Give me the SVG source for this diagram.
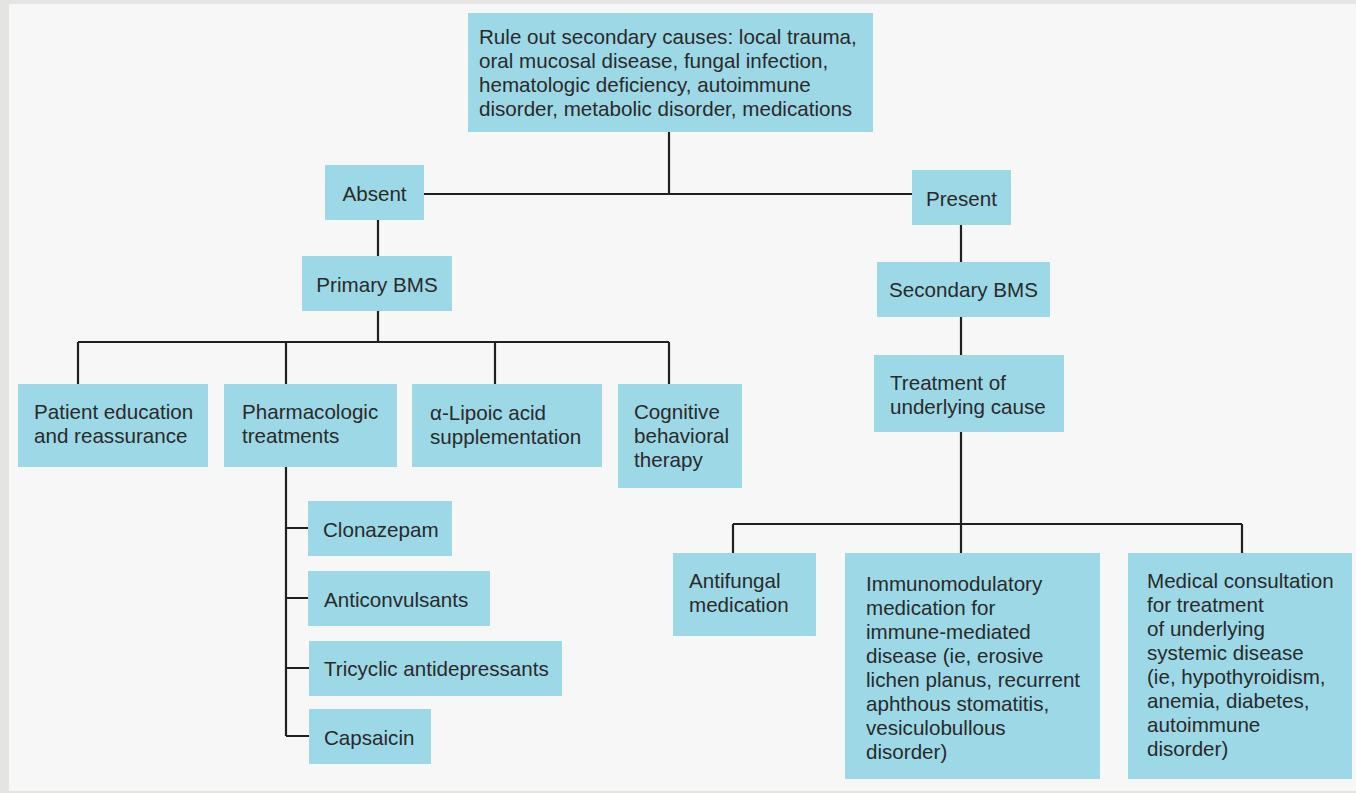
<svg xmlns="http://www.w3.org/2000/svg" width="1356" height="793" viewBox="0 0 1356 793">
<style>
.bx{fill:#9dd8e6}
.t{font-family:"Liberation Sans",Arial,sans-serif;font-size:20.6px;fill:#2a2a2a}
.c{text-anchor:middle}
.ln{stroke:#231f20;stroke-width:2.2;fill:none}
</style>
<rect x="0" y="0" width="1356" height="793" fill="#e4e4e2"/>
<rect x="9" y="4" width="1347" height="787" fill="#f7f7f7"/>
<g id="connectors" class="ln">
<path d="M669 132V194M424 194H912M378 220V256M378 311V342M78 342H669M78 342V384M286 342V384M495 342V384M669 342V384"/>
<path d="M286 467V736M286 528H308M286 598H308M286 668H309M286 736H309"/>
<path d="M961 225V262M961 317V355M961 432V524M733 524H1242M733 524V553M961 524V553M1242 524V553"/>
</g>
<g id="n-root"><rect class="bx" x="468" y="13" width="405" height="119"/>
<text class="t" x="479" y="44">Rule out secondary causes: local trauma,</text>
<text class="t" x="479" y="68">oral mucosal disease, fungal infection,</text>
<text class="t" x="479" y="92">hematologic deficiency, autoimmune</text>
<text class="t" x="479" y="116">disorder, metabolic disorder, medications</text></g>
<g id="n-absent"><rect class="bx" x="325" y="165" width="99" height="55"/><text class="t c" x="374.5" y="201">Absent</text></g>
<g id="n-present"><rect class="bx" x="912" y="170" width="99" height="55"/><text class="t c" x="961.5" y="206">Present</text></g>
<g id="n-primary"><rect class="bx" x="302" y="256" width="150" height="55"/><text class="t c" x="377" y="292">Primary BMS</text></g>
<g id="n-secondary"><rect class="bx" x="877" y="262" width="173" height="55"/><text class="t c" x="963.5" y="297">Secondary BMS</text></g>
<g id="n-treatment"><rect class="bx" x="874" y="355" width="190" height="77"/>
<text class="t" x="890" y="390">Treatment of</text><text class="t" x="890" y="414">underlying cause</text></g>
<g id="n-patient"><rect class="bx" x="18" y="384" width="190" height="83"/>
<text class="t" x="34" y="419">Patient education</text><text class="t" x="34" y="443">and reassurance</text></g>
<g id="n-pharma"><rect class="bx" x="224" y="384" width="173" height="83"/>
<text class="t" x="242" y="419">Pharmacologic</text><text class="t" x="242" y="443">treatments</text></g>
<g id="n-lipoic"><rect class="bx" x="412" y="384" width="190" height="83"/>
<text class="t" x="430" y="420">α-Lipoic acid</text><text class="t" x="430" y="444">supplementation</text></g>
<g id="n-cbt"><rect class="bx" x="618" y="384" width="124" height="104"/>
<text class="t" x="634" y="419">Cognitive</text><text class="t" x="634" y="443">behavioral</text><text class="t" x="634" y="467">therapy</text></g>
<g id="n-clonazepam"><rect class="bx" x="308" y="501" width="144" height="55"/><text class="t" x="323" y="537">Clonazepam</text></g>
<g id="n-anticonv"><rect class="bx" x="308" y="571" width="182" height="55"/><text class="t" x="324" y="607">Anticonvulsants</text></g>
<g id="n-tricyclic"><rect class="bx" x="309" y="641" width="253" height="55"/><text class="t" x="324" y="676">Tricyclic antidepressants</text></g>
<g id="n-capsaicin"><rect class="bx" x="309" y="709" width="122" height="55"/><text class="t" x="324" y="745">Capsaicin</text></g>
<g id="n-antifungal"><rect class="bx" x="673" y="553" width="143" height="83"/>
<text class="t" x="689" y="588">Antifungal</text><text class="t" x="689" y="612">medication</text></g>
<g id="n-immuno"><rect class="bx" x="845" y="553" width="255" height="226"/>
<text class="t" x="866" y="591">Immunomodulatory</text>
<text class="t" x="866" y="615">medication for</text>
<text class="t" x="866" y="639">immune-mediated</text>
<text class="t" x="866" y="663">disease (ie, erosive</text>
<text class="t" x="866" y="687">lichen planus, recurrent</text>
<text class="t" x="866" y="711">aphthous stomatitis,</text>
<text class="t" x="866" y="735">vesiculobullous</text>
<text class="t" x="866" y="759">disorder)</text></g>
<g id="n-medical"><rect class="bx" x="1128" y="553" width="224" height="226"/>
<text class="t" x="1147" y="588">Medical consultation</text>
<text class="t" x="1147" y="612">for treatment</text>
<text class="t" x="1147" y="636">of underlying</text>
<text class="t" x="1147" y="660">systemic disease</text>
<text class="t" x="1147" y="684">(ie, hypothyroidism,</text>
<text class="t" x="1147" y="708">anemia, diabetes,</text>
<text class="t" x="1147" y="732">autoimmune</text>
<text class="t" x="1147" y="756">disorder)</text></g>
</svg>
